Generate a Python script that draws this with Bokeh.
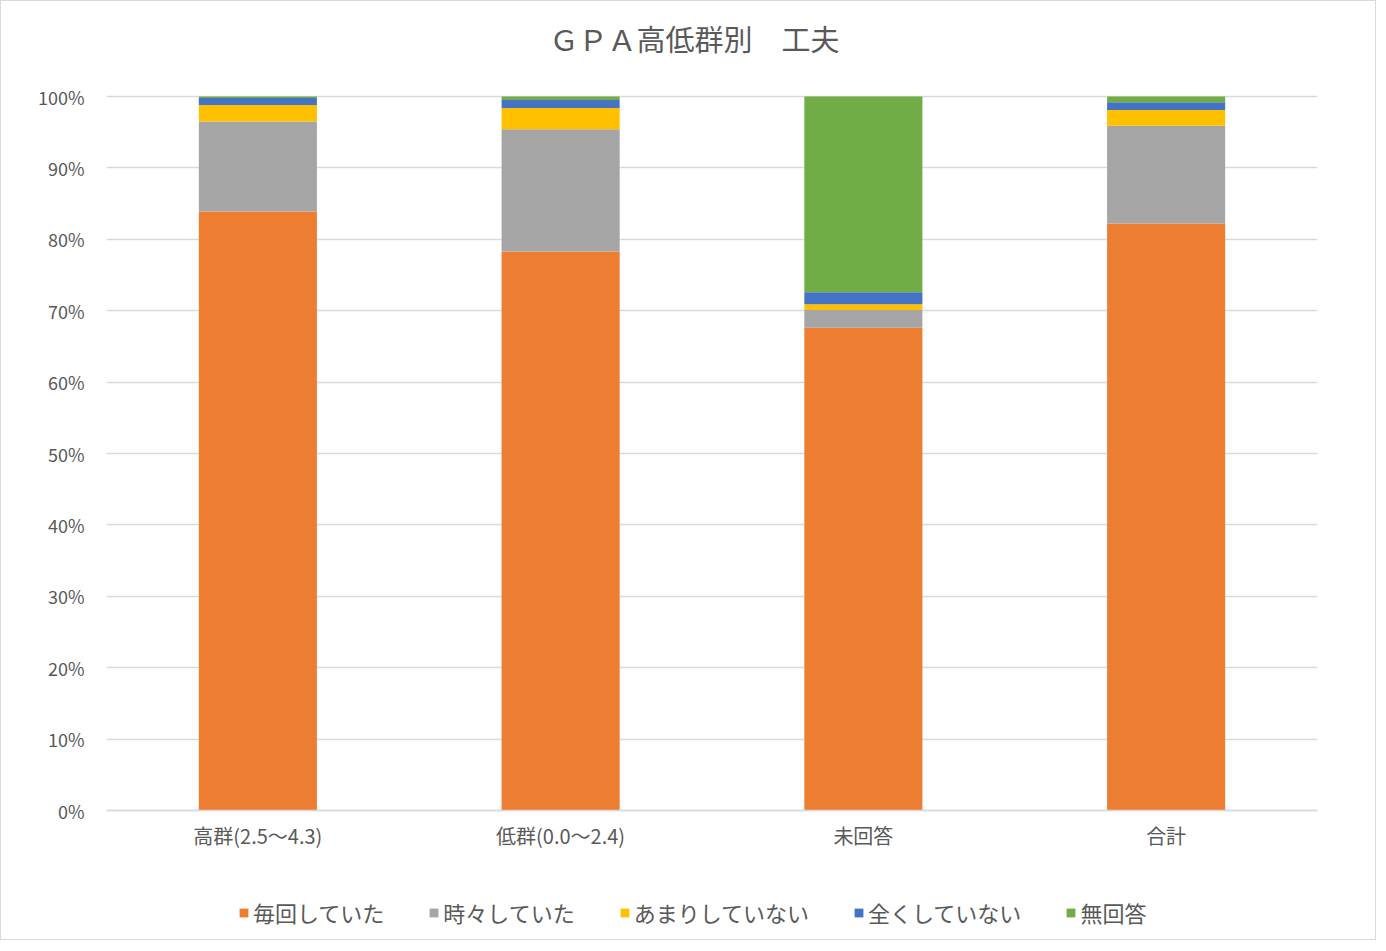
from bokeh.plotting import figure
from bokeh.models import (ColumnDataSource, FactorRange, NumeralTickFormatter, Legend,
                          FixedTicker, Range1d, Label)
from bokeh.embed import file_html
from bokeh.resources import INLINE

title_text = "ＧＰＡ高低群別　工夫"
categories = ["高群(2.5～4.3)", "低群(0.0～2.4)", "未回答", "合計"]
series_names = ["毎回していた", "時々していた", "あまりしていない", "全くしていない", "無回答"]
every_time = [83.9, 78.3, 67.6, 82.2]
sometimes = [12.6, 17.1, 2.5, 13.7]
rarely = [2.3, 3.0, 0.8, 2.2]
never = [1.0, 1.1, 1.7, 1.1]
no_answer = [0.2, 0.5, 27.4, 0.8]
colors = ["#ED7D31", "#A5A5A5", "#FFC000", "#4472C4", "#70AD47"]

keys = ["s0", "s1", "s2", "s3", "s4"]
data = {"cat": categories}
for k, vals in zip(keys, [every_time, sometimes, rarely, never, no_answer]):
    data[k] = [v / 100.0 for v in vals]
source = ColumnDataSource(data)

FONT = "Noto Sans CJK JP"
TXT = "#595959"

# layout (pixels)
W, H = 1376, 940
LEFT, RIGHT, BOTTOM = 105, 60, 8
ZERO_Y, FULL_Y = 809, 95          # pixel rows of 0% and 100%
PLOT_PX = ZERO_Y - FULL_Y
frame_bottom = H - BOTTOM
y_start = -(frame_bottom - ZERO_Y) / PLOT_PX
y_end = 1 + FULL_Y / PLOT_PX

p = figure(width=W, height=H, title=None,
           x_range=FactorRange(*categories), y_range=Range1d(y_start, y_end),
           output_backend="svg", toolbar_location=None,
           min_border_left=LEFT, min_border_right=RIGHT, min_border_top=0,
           min_border_bottom=BOTTOM)

rs = p.vbar_stack(keys, x="cat", width=0.39, source=source, color=colors, line_color=None)

# chart title, centred over the whole chart area
frame_w = W - LEFT - RIGHT
title_cx = (693 - LEFT) / frame_w * len(categories)
p.add_layout(Label(x=title_cx, y=1 + (FULL_Y - 36) / PLOT_PX, text=title_text,
                   text_align="center", text_baseline="middle",
                   text_font=FONT, text_font_size="29px", text_color=TXT))

p.yaxis.ticker = FixedTicker(ticks=[i / 10 for i in range(11)])
p.yaxis.formatter = NumeralTickFormatter(format="0%")
p.yaxis.axis_line_color = None
p.yaxis.major_tick_line_color = None
p.yaxis.minor_tick_line_color = None
p.yaxis.major_label_text_font = FONT
p.yaxis.major_label_text_font_size = "18px"
p.yaxis.major_label_text_color = TXT
p.yaxis.major_label_standoff = 16

p.xaxis.fixed_location = 0
p.xaxis.axis_line_color = "#D9D9D9"
p.xaxis.axis_line_width = 1.5
p.xaxis.major_tick_line_color = None
p.xaxis.minor_tick_line_color = None
p.xaxis.major_label_text_font = FONT
p.xaxis.major_label_text_font_size = "20px"
p.xaxis.major_label_text_color = TXT
p.xaxis.major_label_standoff = 4

p.xgrid.grid_line_color = None
p.ygrid.grid_line_color = "#D9D9D9"
p.ygrid.grid_line_width = 1.5
p.outline_line_color = None

legend = Legend(items=[(n, [r]) for n, r in zip(series_names, rs)],
                orientation="horizontal", location=(132, 5),
                label_text_font=FONT, label_text_font_size="22px", label_text_color=TXT,
                glyph_width=11, glyph_height=11, spacing=44, label_standoff=4,
                border_line_color=None, background_fill_alpha=0, margin=0, padding=5)
p.add_layout(legend, "center")

p.styles = {"border": "1px solid #D9D9D9"}

open("out.html", "w").write(file_html(p, INLINE))
